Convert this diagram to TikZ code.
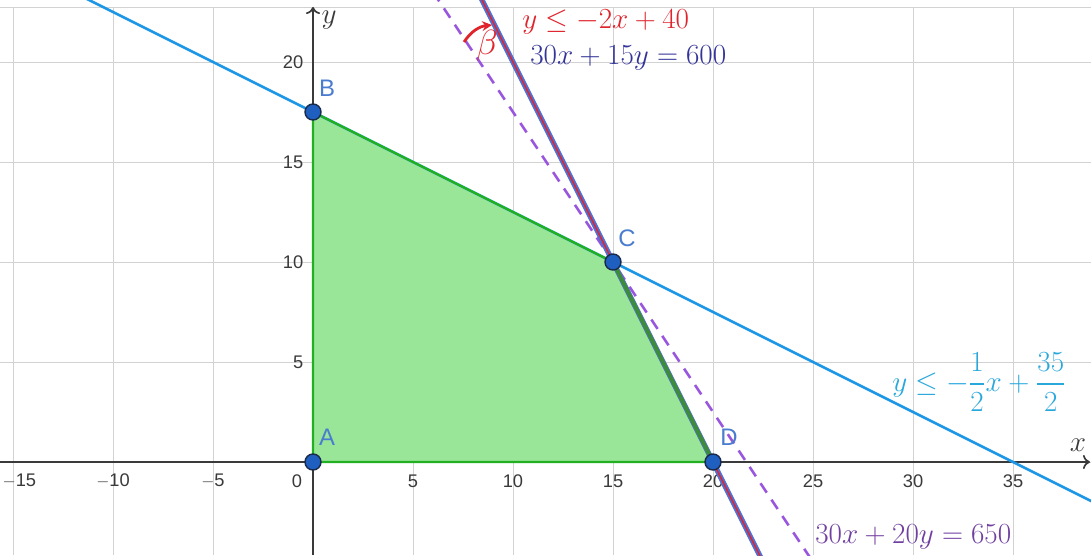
\documentclass[tikz,border=0pt]{standalone}
\usepackage{amsmath}
\usepackage{fontspec}
\setsansfont{Liberation Sans}
\usetikzlibrary{arrows.meta}
\definecolor{LPGrid}{HTML}{D2D2D2}
\definecolor{LPAxis}{HTML}{3A3A3A}
\definecolor{LPCap}{HTML}{1C96E6}
\definecolor{LPCapText}{HTML}{29A8DC}
\definecolor{LPBudget}{HTML}{5070D2}
\definecolor{LPBudgetText}{HTML}{333399}
\definecolor{LPBound}{HTML}{E0242C}
\definecolor{LPIso}{HTML}{9955DD}
\definecolor{LPIsoText}{HTML}{7040A0}
\definecolor{LPRegion}{HTML}{99E699}
\definecolor{LPEdge}{HTML}{22B022}
\definecolor{LPEdgeDark}{HTML}{3C8C3C}
\definecolor{LPPoint}{HTML}{1F5FC0}
\definecolor{LPPointEdge}{HTML}{1A2A4A}
\definecolor{LPName}{HTML}{4A7CCF}
\tikzset{
  lpgrid/.style={draw=LPGrid,line width=0.7pt},
  lpaxis/.style={draw=LPAxis,line width=1.2pt,-{To[length=5pt,width=10pt]}},
  lptick/.style={
    font=\fontsize{13}{15}\selectfont\sffamily,
    text=LPAxis,
    inner sep=1pt
  },
  lppoint/.style={
    circle,
    draw=LPPointEdge,
    fill=LPPoint,
    line width=1pt,
    inner sep=0pt,
    minimum size=0.4cm
  },
  lpname/.style={font=\fontsize{17}{19}\selectfont\sffamily,text=LPName},
  lpeq/.style={font=\fontsize{21}{24}\selectfont,anchor=west,inner sep=0pt},
  lpcap/.style={draw=LPCap,line width=1.8pt},
  lpbudget/.style={draw=LPBudget,line width=3.8pt},
  lpbound/.style={draw=LPBound,line width=1.1pt},
  lpiso/.style={draw=LPIso,line width=1.8pt,dash pattern=on 8pt off 6pt},
  lpedge/.style={draw=LPEdge,line width=1.6pt},
  lpedgedark/.style={draw=LPEdgeDark,line width=2.8pt}
}
\begin{document}
\begin{tikzpicture}[x=0.5cm,y=0.5cm]
  \useasboundingbox (-15.65,-4.65) rectangle (38.9,23.1);
  \clip (-15.65,-4.65) rectangle (38.9,23.1);
  \fill[white] (-15.65,-4.65) rectangle (38.9,23.1);

  \draw[lpgrid] (-15.65,-4.65) grid[step=5] (38.9,22.75);
  \draw[lpgrid] (-15.65,22.75) -- (38.9,22.75);

  \coordinate (xL) at (-15.65,0);
  \coordinate (xR) at (38.85,0);
  \coordinate (yB) at (0,-4.65);
  \coordinate (yT) at (0,22.75);
  \draw[lpaxis] (xL) -- (xR);
  \draw[lpaxis] (yB) -- (yT);
  \node[font=\fontsize{20}{23}\selectfont,text=LPAxis] (xname) at (38.25,0.85) {$x$};
  \node[font=\fontsize{20}{23}\selectfont,text=LPAxis] (yname) at (0.8,22.1) {$y$};

  \node[lptick,anchor=west] (tm15) at (-15.6,-0.95) {$-$15};
  \node[lptick] (tm10) at (-10,-0.95) {$-$10};
  \node[lptick] (tm5) at (-5,-0.95) {$-$5};
  \node[lptick] (t0) at (-0.8,-0.95) {0};
  \node[lptick] (t5) at (5,-0.95) {5};
  \node[lptick] (t10) at (10,-0.95) {10};
  \node[lptick] (t15) at (15,-0.95) {15};
  \node[lptick] (t20) at (20,-0.95) {20};
  \node[lptick] (t25) at (25,-0.95) {25};
  \node[lptick] (t30) at (30,-0.95) {30};
  \node[lptick] (t35) at (35,-0.95) {35};
  \node[lptick,anchor=east] (s5) at (-0.4,5) {5};
  \node[lptick,anchor=east] (s10) at (-0.4,10) {10};
  \node[lptick,anchor=east] (s15) at (-0.4,15) {15};
  \node[lptick,anchor=east] (s20) at (-0.4,20) {20};

  \coordinate (pA) at (0,0);
  \coordinate (pB) at (0,17.5);
  \coordinate (pC) at (15,10);
  \coordinate (pD) at (20,0);
  \fill[LPRegion] (pA) -- (pB) -- (pC) -- (pD) -- cycle;

  \coordinate (capL) at (-16,25.5);
  \coordinate (capR) at (40,-2.5);
  \coordinate (budT) at (8,24);
  \coordinate (budB) at (23,-6);
  \coordinate (isoT) at (6,23.5);
  \coordinate (isoB) at (25,-5);
  \draw[lpcap] (capL) -- (capR);
  \draw[lpiso] (isoT) -- (isoB);
  \draw[lpbudget] (budT) -- (budB);
  \draw[lpbound] (budT) -- (budB);

  \draw[lpedge] (pC) -- (pB) -- (pA) -- (pD);
  \draw[lpedgedark] (pC) -- (pD);

  \node[lppoint] (A) at (pA) {};
  \node[lppoint] (B) at (pB) {};
  \node[lppoint] (C) at (pC) {};
  \node[lppoint] (D) at (pD) {};
  \node[lpname] (Aname) at (0.7,1.25) {A};
  \node[lpname] (Bname) at (0.7,18.7) {B};
  \node[lpname] (Cname) at (15.7,11.2) {C};
  \node[lpname] (Dname) at (20.8,1.25) {D};

  \coordinate (betaS) at (7.55,21.0);
  \coordinate (betaE) at (8.95,21.85);
  \draw[LPBound,line width=2pt,-{Stealth[length=7pt,width=7pt]}] (betaS) to[bend left=25] (betaE);
  \node[font=\fontsize{23}{25}\selectfont,text=LPBound] (beta) at (8.7,20.8) {$\beta$};

  \node[lpeq,text=LPBound] (boundlbl) at (10.45,22.0) {$y\le -2x+40$};
  \node[lpeq,text=LPBudgetText] (budgetlbl) at (10.85,20.2) {$30x+15y=600$};
  \node[lpeq,text=LPCapText] (caplbl) at (28.95,4.0) {$y\le -\dfrac{1}{2}x+\dfrac{35}{2}$};
  \node[lpeq,text=LPIsoText] (isolbl) at (25.1,-3.75) {$30x+20y=650$};
\end{tikzpicture}
\end{document}
